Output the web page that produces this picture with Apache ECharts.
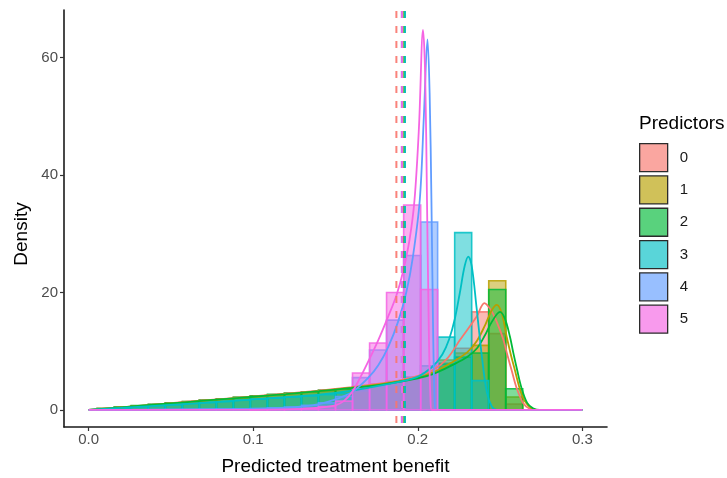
<!DOCTYPE html>
<html>
<head>
<meta charset="utf-8">
<script src="https://cdn.jsdelivr.net/npm/echarts@6/dist/echarts.min.js"></script>
<style>
  html, body { margin: 0; padding: 0; background: #fff; }
  #chart { width: 727px; height: 478px; }
</style>
</head>
<body>
<div id="chart"></div>
<script>
// Groups shown in the legend
const groups = ['0', '1', '2', '3', '4', '5'];
const groupColors = ['#F8766D', '#B79F00', '#00BA38', '#00BFC4', '#619CFF', '#F564E3'];

// Histogram bins (centres) and width
const binWidth = 0.010345;
const binCenters = [0.0000, 0.0103, 0.0207, 0.0310, 0.0414, 0.0517, 0.0621, 0.0724, 0.0828, 0.0931,
                    0.1034, 0.1138, 0.1241, 0.1345, 0.1448, 0.1552, 0.1655, 0.1759, 0.1862, 0.1966,
                    0.2069, 0.2172, 0.2276, 0.2379, 0.2483, 0.2586, 0.2690, 0.2793, 0.2897, 0.3000];

// Histogram densities per group
const hist0 = [0, 0.25, 0.5, 0.7, 0.95, 1.2, 1.45, 1.65, 1.9, 2.15, 2.4, 2.6, 2.85, 3.1, 3.35, 3.6, 4.0, 4.4, 4.9, 5.5, 6.3, 8.0, 10.5, 16.7, 13.0, 1.0, 0, 0, 0, 0];
const hist1 = [0, 0.25, 0.45, 0.7, 0.9, 1.15, 1.4, 1.65, 1.85, 2.1, 2.35, 2.55, 2.8, 3.05, 3.3, 3.55, 3.9, 4.3, 4.7, 5.3, 6.0, 8.5, 9.7, 11.0, 22.0, 2.2, 0, 0, 0, 0];
const hist2 = [0, 0.25, 0.5, 0.75, 0.95, 1.2, 1.45, 1.7, 1.9, 2.15, 2.4, 2.65, 2.9, 3.1, 3.35, 3.6, 3.9, 4.3, 4.7, 5.2, 5.9, 7.8, 9.0, 9.7, 20.5, 3.6, 0, 0, 0, 0];
const hist3 = [0, 0.2, 0.35, 0.55, 0.75, 0.9, 1.1, 1.3, 1.45, 1.65, 1.85, 2.0, 2.2, 2.4, 2.6, 2.85, 3.3, 4.0, 4.8, 5.6, 7.5, 12.4, 30.2, 5.0, 0, 0, 0, 0, 0, 0];
const hist4 = [0, 0.02, 0.03, 0.05, 0.06, 0.08, 0.1, 0.12, 0.15, 0.2, 0.25, 0.35, 0.5, 0.8, 1.2, 2.3, 5.5, 10.2, 15.3, 26.3, 32.0, 0, 0, 0, 0, 0, 0, 0, 0, 0];
const hist5 = [0, 0, 0, 0, 0, 0, 0, 0, 0, 0, 0.02, 0.05, 0.1, 0.25, 0.6, 1.5, 6.3, 11.4, 20.0, 34.9, 20.5, 0, 0, 0, 0, 0, 0, 0, 0, 0];

// Kernel density curves per group: [benefit, density]
const dens0 = [[0, 0], [0.02, 0.45], [0.04, 0.9], [0.06, 1.4], [0.08, 1.85], [0.10, 2.3], [0.12, 2.8], [0.14, 3.3], [0.16, 3.9], [0.18, 4.6], [0.19, 5.1], [0.20, 5.8], [0.2093, 6.8], [0.218, 8.8], [0.2256, 11.9], [0.2358, 15.9], [0.2405, 18.2], [0.2445, 17.0], [0.248, 15.0], [0.252, 12.0], [0.2545, 9.3], [0.257, 6.8], [0.26, 3.8], [0.264, 1.2], [0.268, 0.2], [0.272, 0], [0.3, 0]];
const dens1 = [[0, 0], [0.02, 0.45], [0.04, 0.9], [0.06, 1.35], [0.08, 1.8], [0.10, 2.25], [0.12, 2.7], [0.14, 3.2], [0.16, 3.8], [0.18, 4.5], [0.20, 5.5], [0.21, 6.5], [0.22, 8.0], [0.23, 9.8], [0.236, 11.8], [0.241, 14.5], [0.245, 17.0], [0.248, 17.9], [0.251, 16.5], [0.254, 12.5], [0.2565, 9.5], [0.259, 6.8], [0.262, 3.6], [0.265, 1.5], [0.269, 0.3], [0.273, 0], [0.3, 0]];
const dens2 = [[0, 0], [0.02, 0.45], [0.04, 0.9], [0.06, 1.35], [0.08, 1.8], [0.10, 2.25], [0.12, 2.7], [0.14, 3.2], [0.16, 3.75], [0.18, 4.4], [0.20, 5.4], [0.21, 6.2], [0.22, 7.5], [0.23, 9.0], [0.236, 10.5], [0.241, 12.8], [0.245, 15.0], [0.25, 16.7], [0.253, 15.5], [0.256, 12.5], [0.258, 9.8], [0.2604, 6.8], [0.263, 3.8], [0.2665, 1.2], [0.27, 0.3], [0.274, 0], [0.3, 0]];
const dens3 = [[0, 0], [0.02, 0.35], [0.04, 0.7], [0.06, 1.05], [0.08, 1.4], [0.10, 1.8], [0.12, 2.2], [0.14, 2.6], [0.16, 3.3], [0.18, 4.3], [0.1994, 5.6], [0.209, 7.4], [0.215, 9.5], [0.219, 12.0], [0.2225, 15.5], [0.2256, 20.0], [0.2285, 24.5], [0.2307, 26.1], [0.2328, 24.5], [0.2357, 17.5], [0.239, 9.0], [0.242, 3.0], [0.245, 0.6], [0.248, 0], [0.3, 0]];
const dens4 = [[0, 0], [0.04, 0.05], [0.08, 0.12], [0.10, 0.2], [0.12, 0.4], [0.13, 0.6], [0.14, 1.0], [0.15, 1.8], [0.16, 3.0], [0.17, 5.5], [0.176, 7.6], [0.182, 10.7], [0.188, 15.0], [0.193, 20.0], [0.197, 26.0], [0.2012, 35.7], [0.2037, 50.0], [0.2059, 63.1], [0.2072, 54.0], [0.2083, 35.7], [0.2093, 14.0], [0.2102, 2.0], [0.211, 0], [0.3, 0]];
const dens5 = [[0, 0], [0.10, 0.03], [0.12, 0.1], [0.13, 0.2], [0.14, 0.4], [0.15, 0.8], [0.155, 1.5], [0.16, 3.0], [0.165, 5.5], [0.17, 8.3], [0.176, 11.9], [0.182, 15.9], [0.187, 19.5], [0.191, 23.5], [0.195, 29.0], [0.198, 35.7], [0.2007, 48.0], [0.2032, 64.7], [0.2045, 57.0], [0.2056, 35.7], [0.2068, 12.0], [0.2077, 2.0], [0.2085, 0], [0.3, 0]];

// Group means (dashed reference lines)
const groupMeans = [0.1870, 0.1918, 0.1920, 0.1922, 0.1903, 0.1904];

// Axis ranges and ticks
const xRange = [-0.015, 0.315];
const yRange = [-2.9, 68.1];
const xTicks = [0, 0.1, 0.2, 0.3];
const yTicks = [0, 20, 40, 60];

const histograms = [hist0, hist1, hist2, hist3, hist4, hist5];
const densities = [dens0, dens1, dens2, dens3, dens4, dens5];

const FONT = '"Liberation Sans", Arial, sans-serif';

function withAlpha(hex, a) {
  const n = parseInt(hex.slice(1), 16);
  return 'rgba(' + ((n >> 16) & 255) + ',' + ((n >> 8) & 255) + ',' + (n & 255) + ',' + a + ')';
}

const series = [];

// Histogram bars, one custom series per group
groups.forEach((g, gi) => {
  const data = [];
  binCenters.forEach((c, i) => {
    if (histograms[gi][i] > 0) data.push([c - binWidth / 2, c + binWidth / 2, histograms[gi][i]]);
  });
  series.push({
    name: g,
    type: 'custom',
    z: 2,
    silent: true,
    encode: { x: [0, 1], y: 2 },
    data: data,
    renderItem: function (params, api) {
      const topLeft = api.coord([api.value(0), api.value(2)]);
      const bottomRight = api.coord([api.value(1), 0]);
      return {
        type: 'rect',
        shape: {
          x: topLeft[0], y: topLeft[1],
          width: bottomRight[0] - topLeft[0],
          height: bottomRight[1] - topLeft[1]
        },
        style: {
          fill: withAlpha(groupColors[gi], 0.5),
          stroke: withAlpha(groupColors[gi], 0.85),
          lineWidth: 1.6
        }
      };
    }
  });
});

// Density curves
groups.forEach((g, gi) => {
  series.push({
    name: 'density ' + g,
    type: 'line',
    z: 3,
    silent: true,
    data: densities[gi],
    smooth: 0.35,
    showSymbol: false,
    lineStyle: { color: groupColors[gi], width: 1.8 },
    itemStyle: { color: groupColors[gi] }
  });
});

// Dashed vertical lines at the group means, spanning the whole panel
series.push({
  name: 'means',
  type: 'custom',
  z: 4,
  silent: true,
  encode: { x: 0 },
  data: groupMeans.map((m, i) => [m, i]),
  renderItem: function (params, api) {
    const m = api.value(0);
    const idx = api.value(1);
    const top = api.coord([m, yRange[1]]);
    const bottom = api.coord([m, yRange[0]]);
    return {
      type: 'line',
      shape: { x1: top[0], y1: top[1] + 1, x2: bottom[0], y2: bottom[1] },
      style: { stroke: groupColors[idx], lineWidth: 2, lineDash: [7, 8], opacity: 0.9 }
    };
  }
});

const chart = echarts.init(document.getElementById('chart'), null, { renderer: 'canvas' });
chart.setOption({
  animation: false,
  backgroundColor: '#ffffff',
  grid: { left: 64, right: 120, top: 10, bottom: 51, containLabel: false, outerBoundsMode: 'none' },
  xAxis: {
    type: 'value',
    min: xRange[0],
    max: xRange[1],
    name: 'Predicted treatment benefit',
    nameLocation: 'middle',
    nameGap: 30,
    nameTextStyle: { fontFamily: FONT, fontSize: 19, color: '#000' },
    axisLine: { show: true, onZero: false, lineStyle: { color: '#1a1a1a', width: 1.6 } },
    axisTick: { show: true, length: 4, customValues: xTicks, lineStyle: { color: '#333', width: 1.2 } },
    axisLabel: {
      customValues: xTicks, margin: 5,
      fontFamily: FONT, fontSize: 15, color: '#4d4d4d',
      formatter: v => v.toFixed(1)
    },
    splitLine: { show: false }
  },
  yAxis: {
    type: 'value',
    min: yRange[0],
    max: yRange[1],
    axisLine: { show: true, onZero: false, lineStyle: { color: '#1a1a1a', width: 1.6 } },
    axisTick: { show: true, length: 4, customValues: yTicks, lineStyle: { color: '#333', width: 1.2 } },
    axisLabel: {
      customValues: yTicks, margin: 6,
      fontFamily: FONT, fontSize: 15, color: '#4d4d4d'
    },
    splitLine: { show: false }
  },
  legend: {
    orient: 'vertical',
    left: 639,
    top: 143,
    padding: 0,
    itemWidth: 28,
    itemHeight: 28,
    itemGap: 3,
    selectedMode: false,
    icon: 'rect',
    textStyle: { fontFamily: FONT, fontSize: 15, color: '#1a1a1a', padding: [0, 0, 0, 7] },
    data: groups.map((g, i) => ({
      name: g,
      icon: 'rect',
      itemStyle: { color: withAlpha(groupColors[i], 0.65), borderColor: '#2b2b2b', borderWidth: 1.3 }
    }))
  },
  graphic: [
    {
      type: 'text',
      left: 639,
      top: 114,
      style: { text: 'Predictors', fontFamily: FONT, fontSize: 19, fill: '#000' }
    },
    {
      type: 'text',
      x: 22,
      y: 234,
      rotation: Math.PI / 2,
      style: { text: 'Density', fontFamily: FONT, fontSize: 19, fill: '#000', align: 'center', verticalAlign: 'middle' }
    }
  ],
  series: series
});
</script>
</body>
</html>
